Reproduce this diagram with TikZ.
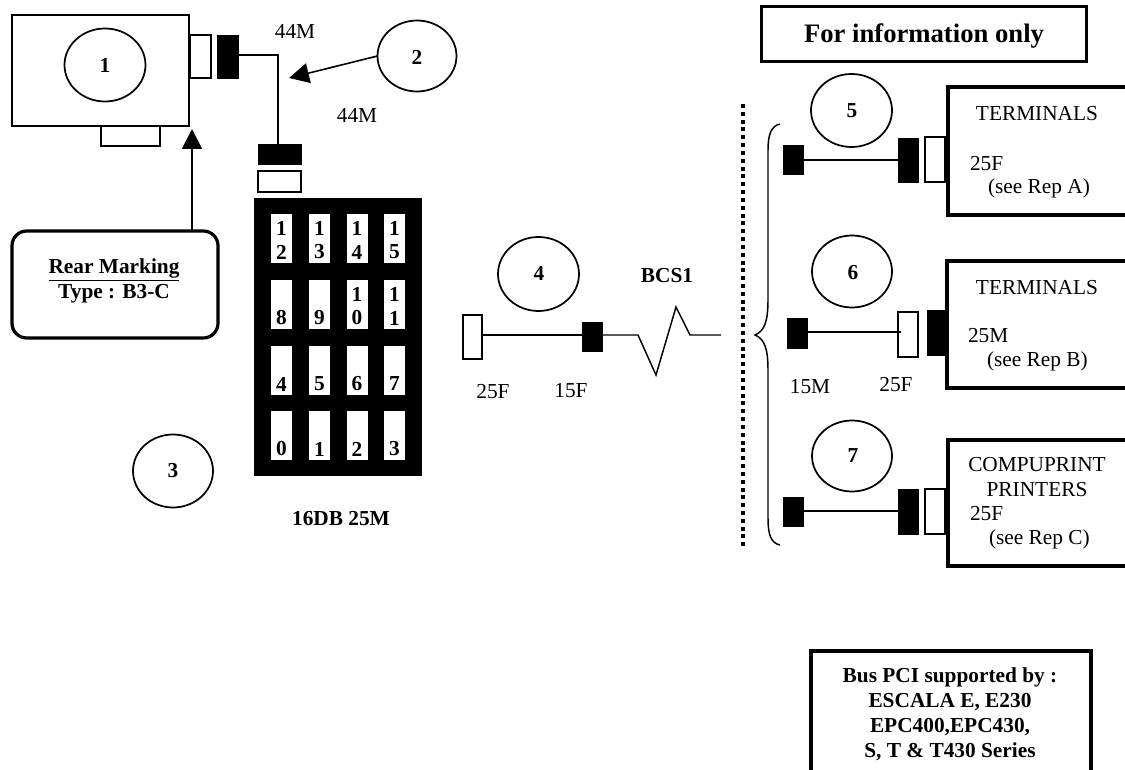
\documentclass[tikz,border=0pt]{standalone}
\usepackage{fontspec}
\setmainfont{Liberation Serif}
\usetikzlibrary{arrows.meta,shapes.geometric}
\begin{document}
\begin{tikzpicture}[x=0.75pt,y=-0.75pt,
  every node/.style={inner sep=0pt,outer sep=0pt},
  txt/.style={font=\fontsize{16}{18.75}\selectfont,align=center},
  txtl/.style={font=\fontsize{16}{18.75}\selectfont,anchor=west},
  btxt/.style={font=\fontsize{16}{18.75}\selectfont\bfseries,align=center},
  sz/.style 2 args={minimum width=#1*0.75pt,minimum height=#2*0.75pt},
  bubble/.style={draw,line width=1.3pt,ellipse},
  blk/.style={rectangle,fill=black},
  wht/.style={rectangle,fill=white,draw=black,line width=1.1pt},
  plain box/.style={rectangle,draw,line width=1.1pt},
  wire/.style={line width=1.1pt},
  heavy/.style={line width=2.7pt},
  bigarrow/.style={line width=1.2pt,-{Triangle[length=15pt,width=15pt]}},
  cell/.style={rectangle,fill=white,minimum width=15.75pt,minimum height=36.75pt},
]
\useasboundingbox (0,0) rectangle (1125,770);

% --- adapter with its connectors
\node[plain box,sz={177}{111}] (unit) at (100.5,70.5) {};
\node[bubble,sz={81}{73}] (c1) at (105,65) {};
\node[btxt] (t1) at (105,65) {1};
\node[wht,sz={21}{43}] (w1) at (200.5,56.5) {};
\node[blk,sz={22}{44}] (b1) at (227.5,57) {};
\node[plain box,sz={59}{20}] (slot) at (130.5,136) {};
\node[blk,sz={44}{21}] (b2) at (279.5,154.5) {};
\node[wht,sz={43}{21}] (w2) at (279.5,181.5) {};
\coordinate (bend) at (278,55);
\draw[wire] (bend -| b1.east) -- (bend) -- (bend |- b2.north);

\node[bubble,sz={79}{71}] (c2) at (417,56) {};
\node[btxt] (t2) at (417,57) {2};
\coordinate (tip2) at (289,78);
\draw[bigarrow] (c2.west) -- (tip2);
\node[txt] (m1) at (295,31) {44M};
\node[txt] (m2) at (357,115) {44M};

% --- rear marking
\node[rectangle,draw,line width=2.4pt,rounded corners=11pt,sz={206}{107}] (rear) at (115,284.5) {};
\node[btxt] (rt1) at (114,270) {\underline{Rear Marking}};
\node[btxt] (rt2) at (114,294) {Type : B3-C};
\coordinate (tip1) at (192,129);
\draw[bigarrow] (tip1 |- rear.north) -- (tip1);

\node[bubble,sz={80}{73}] (c3) at (173,471) {};
\node[btxt] (t3) at (173,471) {3};

% --- 16 way block
\node[blk,sz={168}{278}] (grid) at (338,337) {};
\foreach \n/\cx/\cy/\top/\bot in {
  12/281.5/238.5/1/2, 13/319.5/238.5/1/3, 14/357/238.5/1/4, 15/394.5/238.5/1/5,
  8/281.5/304.5//8, 9/319.5/304.5//9, 10/357/304.5/1/0, 11/394.5/304.5/1/1,
  4/281.5/370.5//4, 5/319.5/370.5//5, 6/357/370.5//6, 7/394.5/370.5//7,
  0/281.5/435.5//0, 1/319.5/435.5//1, 2/357/435.5//2, 3/394.5/435.5//3}{
  \node[cell] (cell\n) at (\cx,\cy) {};
  \node[btxt] (top\n) at (\cx,\cy-10.5) {\top};
  \node[btxt] (bot\n) at (\cx,\cy+13.5) {\bot};
}
\node[btxt] (gridname) at (341,519) {16DB 25M};

% --- cable 4
\node[bubble,sz={81}{74}] (c4) at (538.5,274) {};
\node[btxt] (t4) at (539,273) {4};
\node[wht,sz={19}{44}] (w4) at (472.5,337) {};
\node[blk,sz={21}{30}] (b4) at (592,336.5) {};
\coordinate (z1) at (638,335);
\coordinate (z2) at (656,375);
\coordinate (z3) at (676,307);
\coordinate (z4) at (690,335);
\coordinate (z5) at (721,335);
\draw[wire] (w4.east |- z1) -- (b4.west |- z1);
\draw[wire] (b4.east |- z1) -- (z1) -- (z2) -- (z3) -- (z4) -- (z5);
\node[btxt] (bcs) at (667,276) {BCS1};
\node[txt] (f25) at (493,392) {25F};
\node[txt] (f15) at (571,391) {15F};

% --- dotted separator and brace
\coordinate (dot1) at (743,104);
\coordinate (dot2) at (743,546);
\draw[line width=3pt,dash pattern=on 3pt off 2.87pt] (dot1) -- (dot2);
\coordinate (br1) at (780,124);
\coordinate (brtip) at (755,335);
\coordinate (br2) at (780,545);
\draw[wire] (br1) .. controls (771,126) and (768,135) .. (768,150) -- (768,300)
  .. controls (768,320) and (765,331) .. (brtip)
  .. controls (765,339) and (768,350) .. (768,370) -- (768,518)
  .. controls (768,535) and (771,543) .. (br2);

% --- header
\node[rectangle,draw,line width=2.6pt,sz={325}{55}] (info) at (924,34) {};
\node[font=\fontsize{20}{24}\selectfont\bfseries] (infot) at (924,36) {For information only};

% --- line 5
\node[bubble,sz={81}{73}] (c5) at (851.5,110.5) {};
\node[btxt] (t5) at (852,111) {5};
\node[blk,sz={21}{30}] (l5) at (793.5,160) {};
\node[blk,sz={21}{45}] (r5) at (908.5,160.5) {};
\node[wht,sz={20}{45}] (w5) at (935,159.5) {};
\draw[wire] (l5) -- (l5 -| r5.west);
\coordinate (a1) at (1125,87); \coordinate (a2) at (948,87);
\coordinate (a3) at (948,215); \coordinate (a4) at (1125,215);
\draw[heavy] (a1) -- (a2) -- (a3) -- (a4);
\node[txt] (term5) at (1037,114) {TERMINALS};
\node[txtl] (k5) at (970,164) {25F};
\node[txtl] (rep5) at (988,188.5) {(see Rep A)};

% --- line 6
\node[bubble,sz={80}{72}] (c6) at (852,271.5) {};
\node[btxt] (t6) at (853,273) {6};
\node[blk,sz={21}{31}] (l6) at (797,333.5) {};
\node[wht,sz={20}{45}] (w6) at (908,334.5) {};
\node[blk,sz={21}{46}] (r6) at (937,333) {};
\coordinate (m6) at (901,332);
\draw[wire] (l6.east |- m6) -- (m6);
\coordinate (e1) at (1125,261); \coordinate (e2) at (947,261);
\coordinate (e3) at (947,388); \coordinate (e4) at (1125,388);
\draw[heavy] (e1) -- (e2) -- (e3) -- (e4);
\node[txt] (term6) at (1037,288) {TERMINALS};
\node[txtl] (k6) at (968,336) {25M};
\node[txtl] (rep6) at (987,361.5) {(see Rep B)};
\node[txt] (m15) at (810,387) {15M};
\node[txt] (f25b) at (896,385) {25F};

% --- line 7
\node[bubble,sz={80}{71}] (c7) at (852,456) {};
\node[btxt] (t7) at (853,456) {7};
\node[blk,sz={21}{30}] (l7) at (793.5,512) {};
\node[blk,sz={21}{46}] (r7) at (908.5,512) {};
\node[wht,sz={20}{45}] (w7) at (935,511.5) {};
\coordinate (m7) at (850,511);
\draw[wire] (l7.east |- m7) -- (r7.west |- m7);
\coordinate (g1) at (1125,440); \coordinate (g2) at (948,440);
\coordinate (g3) at (948,566); \coordinate (g4) at (1125,566);
\draw[heavy] (g1) -- (g2) -- (g3) -- (g4);
\node[txt] (term7) at (1037,477) {COMPUPRINT\\PRINTERS};
\node[txtl] (k7) at (970,514) {25F};
\node[txtl] (rep7) at (989,539.5) {(see Rep C)};

% --- support box
\coordinate (s1) at (811,772); \coordinate (s2) at (811,651);
\coordinate (s3) at (1091,651); \coordinate (s4) at (1091,772);
\draw[line width=2.7pt] (s1) -- (s2) -- (s3) -- (s4);
\node[btxt] (bus) at (950,714.5) {Bus PCI supported by :\\ESCALA E, E230\\EPC400,EPC430,\\S, T \& T430 Series};
\end{tikzpicture}
\end{document}
